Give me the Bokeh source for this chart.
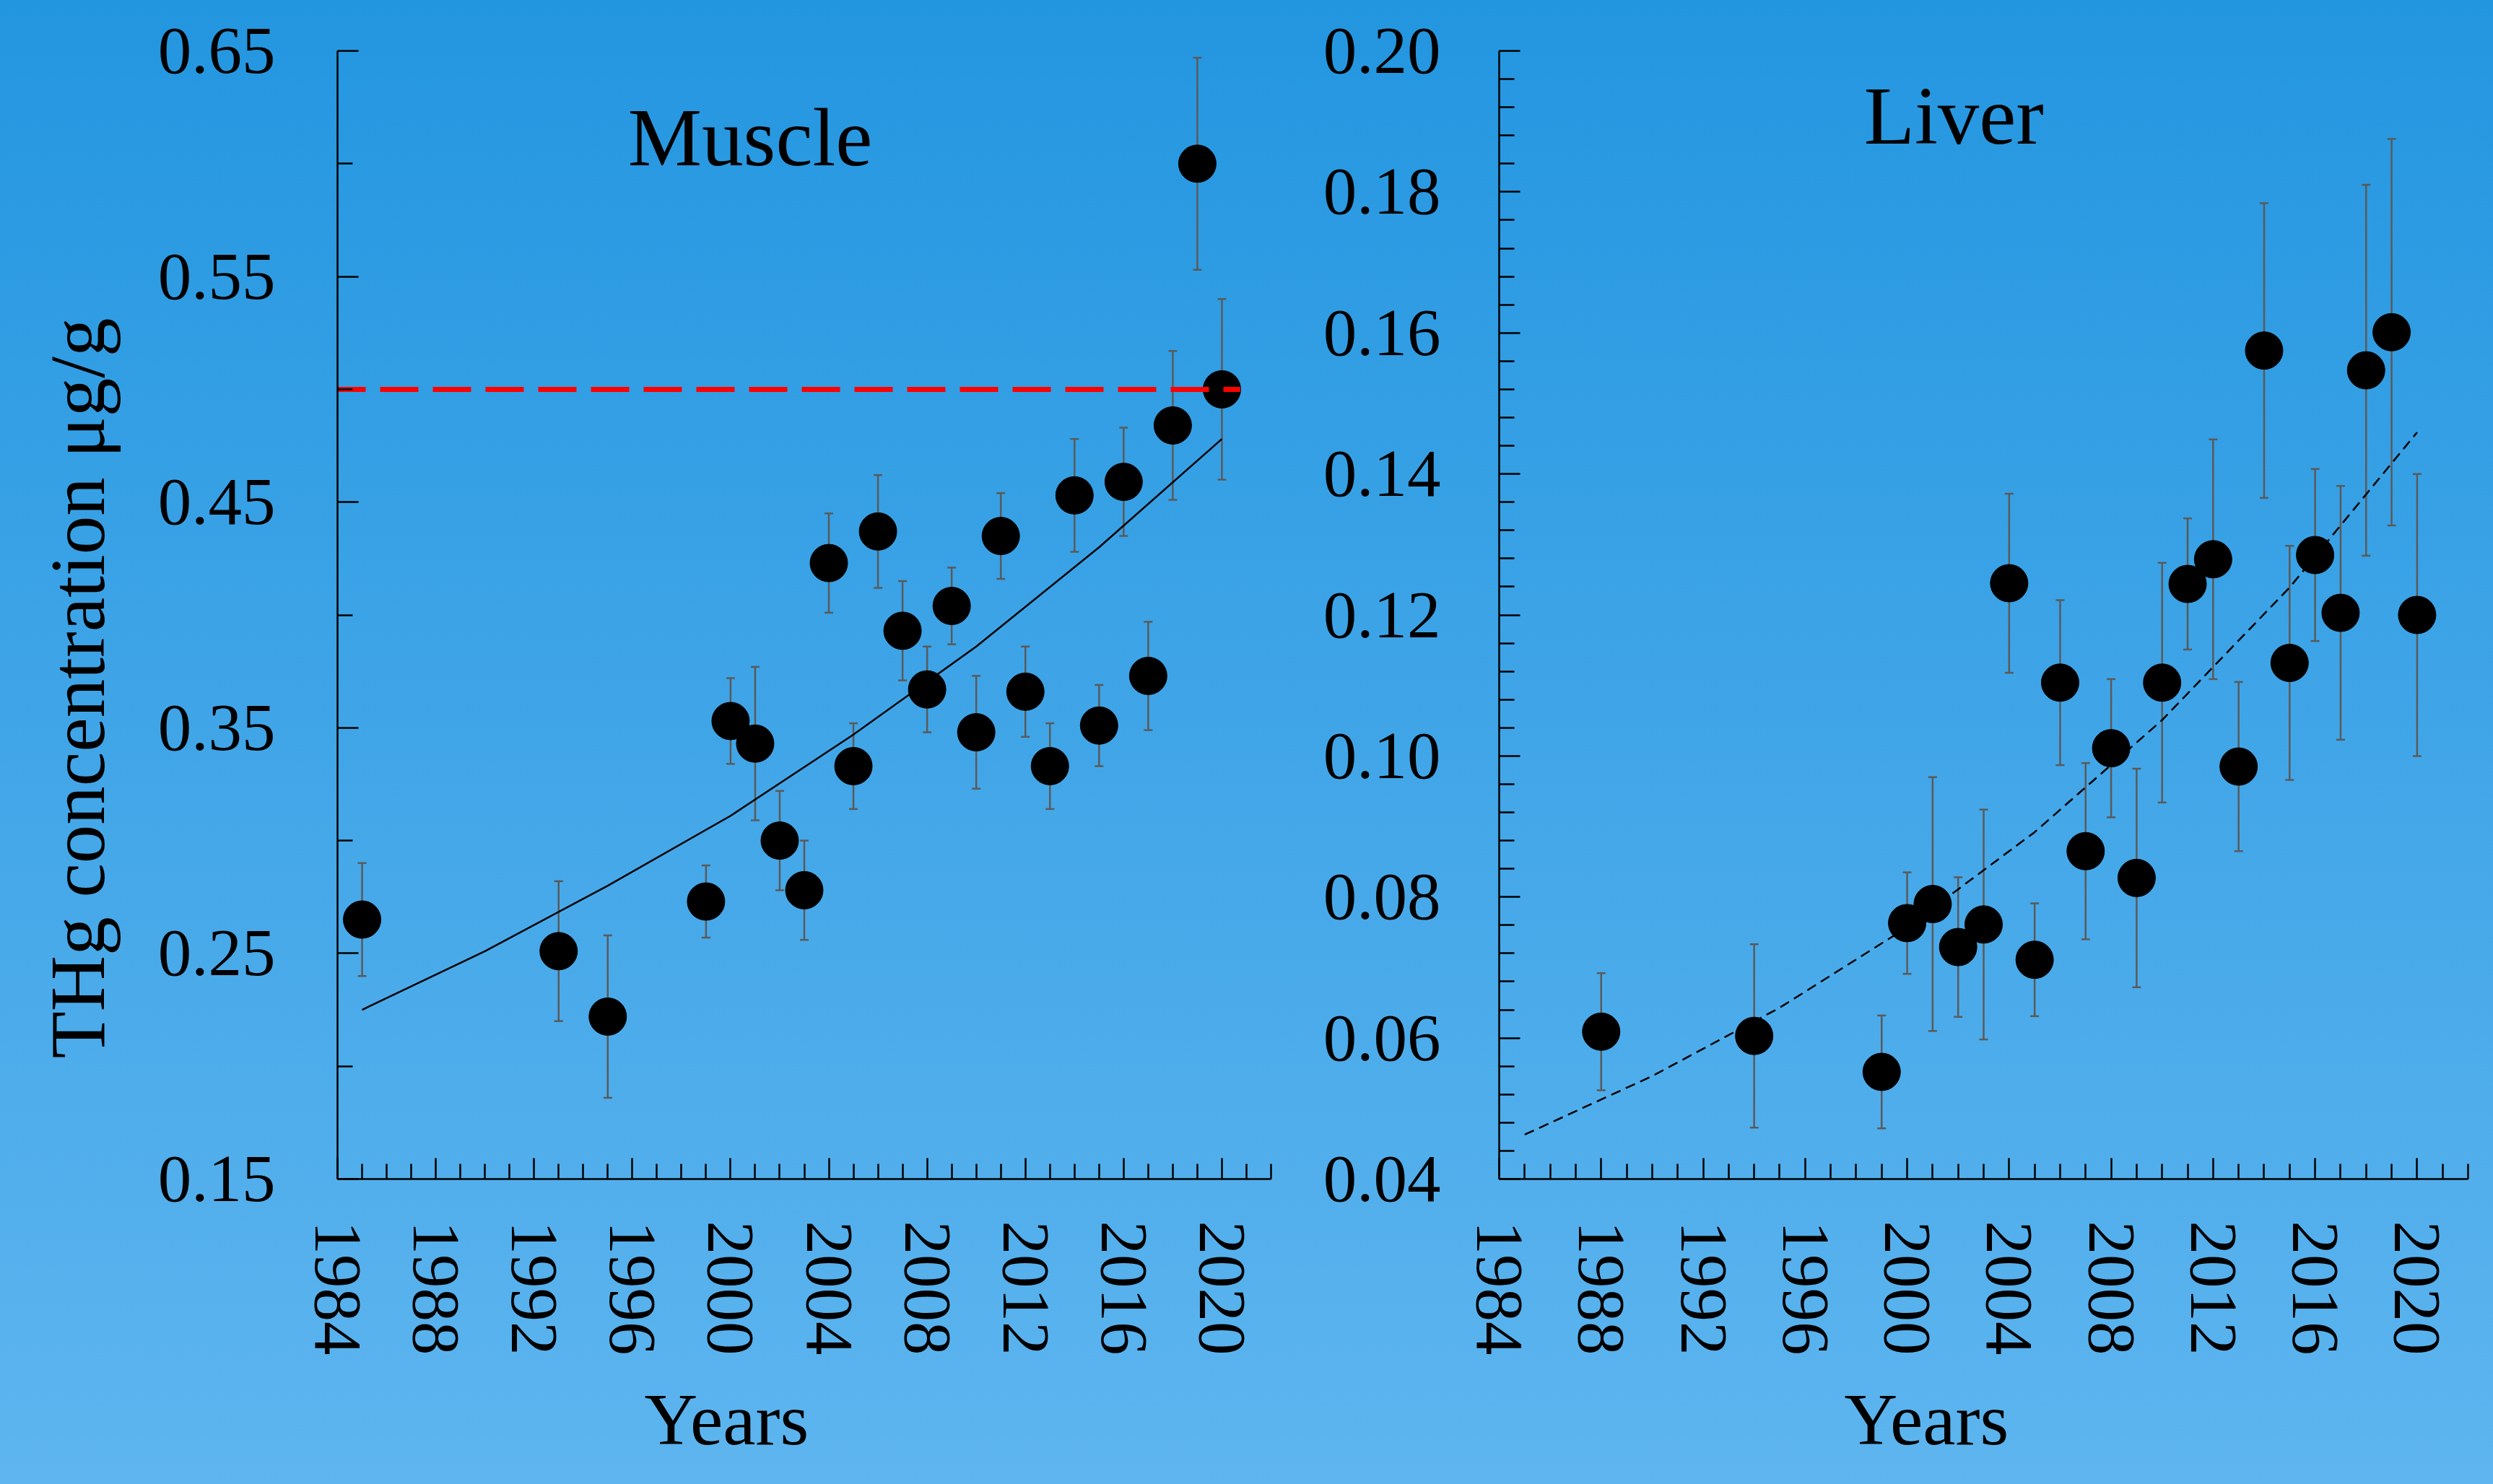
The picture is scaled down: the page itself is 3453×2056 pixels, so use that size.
import math
import numpy as np
from bokeh.plotting import figure
from bokeh.layouts import row
from bokeh.models import Range1d, FixedTicker, Whisker, TeeHead, ColumnDataSource, Label, Title
from bokeh.embed import file_html
from bokeh.resources import INLINE

# ---------------- data ----------------
years_m = [1985, 1993, 1995, 1999, 2000, 2001, 2002, 2003, 2004, 2005, 2006, 2007, 2008,
           2009, 2010, 2011, 2012, 2013, 2014, 2015, 2016, 2017, 2018, 2019, 2020]
thg_m = [0.265, 0.251, 0.222, 0.273, 0.353, 0.343, 0.300, 0.278, 0.423, 0.333, 0.437, 0.393, 0.367,
         0.404, 0.348, 0.435, 0.366, 0.333, 0.453, 0.351, 0.459, 0.373, 0.484, 0.600, 0.500]
err_m = [0.025, 0.031, 0.036, 0.016, 0.019, 0.034, 0.022, 0.022, 0.022, 0.019, 0.025, 0.022, 0.019,
         0.017, 0.025, 0.019, 0.020, 0.019, 0.025, 0.018, 0.024, 0.024, 0.033, 0.047, 0.040]

years_l = [1988, 1994, 1999, 2000, 2001, 2002, 2003, 2004, 2005, 2006, 2007, 2008,
           2009, 2010, 2011, 2012, 2013, 2014, 2015, 2016, 2017, 2018, 2019, 2020]
thg_l = [0.0609, 0.0603, 0.0552, 0.0763, 0.0790, 0.0729, 0.0761, 0.1245, 0.0711, 0.1104, 0.0865, 0.1011,
         0.0827, 0.1104, 0.1244, 0.1279, 0.0985, 0.1575, 0.1132, 0.1285, 0.1203, 0.1547, 0.1601, 0.1200]
err_l = [0.0083, 0.0130, 0.0080, 0.0072, 0.0180, 0.0099, 0.0163, 0.0127, 0.0080, 0.0117, 0.0125, 0.0098,
         0.0155, 0.0170, 0.0093, 0.0170, 0.0120, 0.0209, 0.0166, 0.0122, 0.0180, 0.0263, 0.0274, 0.0200]

# fitted trend curves
trend_years = [1985, 1990, 1995, 2000, 2005, 2010, 2015, 2020]
trend_m = [0.225, 0.251, 0.280, 0.311, 0.347, 0.386, 0.430, 0.478]
trend_l = [0.0463, 0.0546, 0.0643, 0.0757, 0.0892, 0.1051, 0.1239, 0.1459]

limit_m = 0.5          # red dashed guideline (muscle)
limit_end = 2020.75

x_major = [1984, 1988, 1992, 1996, 2000, 2004, 2008, 2012, 2016, 2020]
x_labels = ["1984", "1988", "1992", "1996", "2000", "2004", "2008", "2012", "2016", "2020"]
ym_major = [0.15, 0.25, 0.35, 0.45, 0.55, 0.65]
ym_labels = ["0.15", "0.25", "0.35", "0.45", "0.55", "0.65"]
yl_major = [0.04, 0.06, 0.08, 0.10, 0.12, 0.14, 0.16, 0.18, 0.20]
yl_labels = ["0.04", "0.06", "0.08", "0.10", "0.12", "0.14", "0.16", "0.18", "0.20"]

x_title = "Years"
y_title = "THg concentration μg/g"

FONT = "Liberation Serif"
ERR = "#5a5a5a"
TICK_FS = "93px"
H = 2056


def style_axes(p, xmaj, xlab, ymaj, ylab, yminor, ystandoff):
    x_minor = [y for y in range(1984, 2023) if y not in xmaj]
    p.xaxis.ticker = FixedTicker(ticks=xmaj, minor_ticks=x_minor)
    p.xaxis.major_label_overrides = {k: v for k, v in zip(xmaj, xlab)}
    p.yaxis.ticker = FixedTicker(ticks=ymaj, minor_ticks=yminor)
    p.yaxis.major_label_overrides = {k: v for k, v in zip(ymaj, ylab)}
    for ax in (p.xaxis, p.yaxis):
        ax.axis_line_color = "black"
        ax.axis_line_width = 2.5
        ax.major_tick_line_color = "black"
        ax.minor_tick_line_color = "black"
        ax.major_tick_line_width = 2.5
        ax.minor_tick_line_width = 2.5
        ax.major_tick_in = 29
        ax.major_tick_out = 0
        ax.minor_tick_in = 21
        ax.minor_tick_out = 0
        ax.major_label_text_font = FONT
        ax.major_label_text_font_size = TICK_FS
        ax.major_label_text_color = "black"
    p.xaxis.major_label_orientation = -math.pi / 2
    p.xaxis.major_label_standoff = 58
    p.yaxis.major_label_standoff = ystandoff
    p.xgrid.visible = False
    p.ygrid.visible = False
    p.outline_line_color = None
    p.background_fill_color = None
    p.border_fill_color = None


def add_points(p, xs, vs, es):
    src = ColumnDataSource(dict(x=xs, y=vs,
                                upper=[v + e for v, e in zip(vs, es)],
                                lower=[v - e for v, e in zip(vs, es)]))
    w = Whisker(base="x", upper="upper", lower="lower", source=src, dimension="height",
                line_color=ERR, line_width=2.5, level="underlay",
                upper_head=TeeHead(size=12, line_color=ERR, line_width=2.5),
                lower_head=TeeHead(size=12, line_color=ERR, line_width=2.5))
    p.add_layout(w)
    p.scatter("x", "y", source=src, size=52, marker="circle",
              fill_color="black", line_color="black")


def side_title(text, size, offset, standoff, valign):
    return Title(text=text, align="left", offset=offset, standoff=standoff,
                 vertical_align=valign, text_font=FONT, text_font_size=size,
                 text_font_style="normal", text_color="black")


# ---------------- Muscle ----------------
pm = figure(width=1790, height=H, output_backend="svg", toolbar_location=None,
            x_range=Range1d(1984, 2022), y_range=Range1d(0.15, 0.65),
            min_border_left=467, min_border_right=30, min_border_top=70,
            min_border_bottom=H - 1646)
ym_minor = [0.20, 0.30, 0.40, 0.50, 0.60]
style_axes(pm, x_major, x_labels, ym_major, ym_labels, ym_minor, 86)
add_points(pm, years_m, thg_m, err_m)
pm.line(trend_years, trend_m, line_color="black", line_width=2.5)
pm.line([pm.x_range.start, limit_end], [limit_m, limit_m], line_color="#ff0000",
        line_width=7, line_dash="53 20", line_dash_offset=14)
pm.add_layout(Label(x=2000.8, y=0.6115, text="Muscle", text_font=FONT, text_font_size="115px",
                    text_align="center", text_baseline="alphabetic", text_color="black"))
pm.add_layout(side_title(x_title, "102px", 425, 54, "bottom"), "below")
pm.add_layout(side_title(y_title, "107px", 167, 93, "top"), "left")

# ---------------- Liver ----------------
pl = figure(width=1663, height=H, output_backend="svg", toolbar_location=None,
            x_range=Range1d(1984, 2022), y_range=Range1d(0.04, 0.20),
            min_border_left=286, min_border_right=35, min_border_top=67,
            min_border_bottom=H - 1633)
yl_minor = [round(v, 3) for v in np.arange(0.044, 0.2001, 0.004) if round(v, 3) not in
            [round(m, 3) for m in yl_major]]
style_axes(pl, x_major, x_labels, yl_major, yl_labels, yl_minor, 81)
add_points(pl, years_l, thg_l, err_l)
pl.line(trend_years, trend_l, line_color="black", line_width=2.5, line_dash="14 8")
pl.add_layout(Label(x=2001.83, y=0.1908, text="Liver", text_font=FONT, text_font_size="115px",
                    text_align="center", text_baseline="alphabetic", text_color="black"))
pl.add_layout(side_title(x_title, "102px", 478, 55, "bottom"), "below")

layout = row(pm, pl, spacing=0,
             styles={"background": "linear-gradient(to bottom, #2396e0 0%, #5eb5ef 100%)"})

open("out.html", "w").write(file_html(layout, INLINE))
